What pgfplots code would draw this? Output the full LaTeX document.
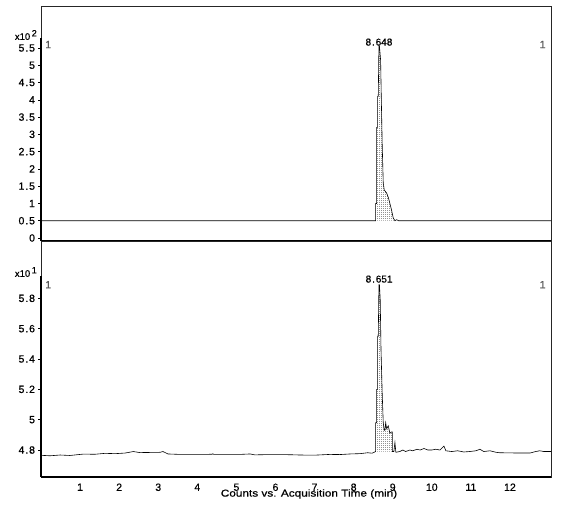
\documentclass[border=0pt]{standalone}
\usepackage{fontspec}
\setmainfont[FakeBold=0.7]{Liberation Sans}
\usepackage{pgfplots}
\pgfplotsset{compat=1.18}
\usetikzlibrary{patterns.meta}
\tikzdeclarepattern{
  name=fdots,
  type=uncolored,
  bottom left={(0pt,0pt)},
  top right={(1.5pt,1.5pt)},
  tile size={(1.5pt,1.5pt)},
  code={\fill (0pt,0pt) rectangle (0.9pt,0.9pt);}
}
\definecolor{lbl}{HTML}{5A5A5A}
\newcommand\dt{\kern0.9pt.\kern0.9pt}
\pgfplotsset{
  common/.style={
    scale only axis, width=510pt, xmin=0, xmax=13.05,
    axis line style={line width=0.7pt, black!85},
    tick style={black, line width=0.6pt},
    major tick length=3pt, tick align=outside,
    ytick pos=left, xtick pos=bottom,
    scaled ticks=false, clip mode=individual,
    tick label style={font=\fontsize{10.5}{11}\selectfont},
    /pgf/number format/assume math mode=true,
    yticklabel style={xshift=0.5pt},
  }
}
\begin{document}
\begin{tikzpicture}
\path[use as bounding box] (0pt,0pt) rectangle (569pt,-507pt);
% ---------- top panel ----------
\begin{axis}[common, at={(41pt,-6pt)}, anchor=north west, height=235pt,
  ymin=-0.087, ymax=6.715, xtick=\empty,
  ytick={0,0.5,1,1.5,2,2.5,3,3.5,4,4.5,5,5.5},
  yticklabels={0,0\dt5,1,1\dt5,2,2\dt5,3,3\dt5,4,4\dt5,5,5\dt5}]
\addplot[draw=none, pattern=fdots, pattern color=black] coordinates {
(8.563,0.5)(8.563,1.0)(8.588,1.0)(8.588,3.2)(8.614,3.2)(8.614,4.1)(8.63,4.1)
(8.647,5.58)(8.66,5.55)(8.69,5.15)(8.706,4.13)(8.731,2.69)(8.757,1.59)
(8.783,1.39)(8.844,1.3)(8.885,1.18)(8.928,1.0)(8.972,0.8)(9.013,0.58)(9.056,0.5)};
\addplot[black, line width=0.6pt] coordinates {
(0,0.5)(8.563,0.5)(8.563,1.0)(8.588,1.0)(8.588,3.2)(8.614,3.2)(8.614,4.1)(8.63,4.1)
(8.647,5.58)(8.66,5.55)(8.69,5.15)(8.706,4.13)(8.731,2.69)(8.757,1.59)
(8.783,1.39)(8.844,1.3)(8.885,1.18)(8.928,1.0)(8.972,0.8)(9.013,0.58)(9.056,0.5)
(9.10,0.53)(9.15,0.5)(13.05,0.5)};
\draw[line width=2.4pt] (axis cs:0,-0.087) -- (axis cs:0,5.8);
\draw[line width=2pt] (rel axis cs:0,0) -- (rel axis cs:1,0);
\node[font=\fontsize{10}{11}\selectfont] at (axis cs:8.648,5.67) {8\dt648};
\node[font=\fontsize{10.5}{11}\selectfont, text=lbl, anchor=west] at (axis cs:0.02,5.6) {1};
\node[font=\fontsize{10.5}{11}\selectfont, text=lbl, anchor=east] at (axis cs:13.0,5.6) {1};
\end{axis}
% ---------- bottom panel ----------
\begin{axis}[common, at={(41pt,-241pt)}, anchor=north west, height=236pt,
  ymin=4.622, ymax=6.178,
  xtick={1,2,3,4,5,6,7,8,9,10,11,12},
  xtick style={draw=none},
  ytick={4.8,5,5.2,5.4,5.6,5.8},
  yticklabels={4\dt8,5,5\dt2,5\dt4,5\dt6,5\dt8}]
\addplot[draw=none, pattern=fdots, pattern color=black] coordinates {
(8.563,4.79)(8.563,4.98)(8.588,4.98)(8.588,5.20)(8.614,5.20)(8.614,5.55)(8.63,5.55)
(8.647,5.89)(8.66,5.89)(8.68,5.79)(8.70,5.46)(8.731,5.17)(8.757,4.98)(8.783,4.93)
(8.80,4.93)(8.82,4.98)(8.844,4.94)(8.885,4.96)(8.928,4.91)(8.972,4.92)(8.99,4.92)(8.99,4.79)};
\addplot[black, line width=0.6pt] coordinates {
(0,4.765)(0.23,4.762)(0.49,4.767)(0.74,4.764)(1.08,4.773)(1.38,4.772)(1.64,4.778)
(1.90,4.776)(2.15,4.780)(2.28,4.786)(2.36,4.79)(2.53,4.783)(2.79,4.784)(3.05,4.785)
(3.12,4.79)(3.25,4.774)(3.56,4.771)(4.07,4.771)(4.38,4.772)(4.40,4.776)(4.42,4.771)
(5.09,4.771)(5.35,4.774)(5.47,4.768)(5.86,4.770)(6.37,4.769)(6.63,4.767)(7.0,4.766)
(7.39,4.771)(7.65,4.770)(7.91,4.774)(8.16,4.776)(8.36,4.782)(8.47,4.779)(8.563,4.79)
(8.563,4.98)(8.588,4.98)(8.588,5.20)(8.614,5.20)(8.614,5.55)(8.63,5.55)
(8.647,5.89)(8.66,5.89)(8.68,5.79)(8.70,5.46)(8.731,5.17)(8.757,4.98)(8.783,4.93)
(8.80,4.93)(8.82,4.98)(8.844,4.94)(8.885,4.96)(8.928,4.91)(8.972,4.92)(8.99,4.92)(8.99,4.79)
(9.03,4.79)(9.056,4.85)(9.08,4.785)(9.18,4.79)(9.26,4.80)(9.33,4.79)(9.44,4.80)
(9.51,4.795)(9.62,4.805)(9.70,4.80)(9.80,4.81)(9.90,4.80)(10.0,4.80)(10.10,4.805)
(10.21,4.80)(10.31,4.826)(10.36,4.795)(10.51,4.79)(10.66,4.795)(10.82,4.787)
(10.97,4.79)(11.13,4.795)(11.23,4.805)(11.33,4.79)(11.49,4.795)(11.64,4.785)
(11.74,4.782)(12.0,4.781)(12.25,4.78)(12.51,4.78)(12.66,4.79)(12.76,4.795)
(12.87,4.79)(13.05,4.79)};
\draw[line width=2.4pt] (axis cs:0,4.622) -- (axis cs:0,5.95);
\draw[line width=2pt] (rel axis cs:0,0) -- (rel axis cs:1,0);
\node[font=\fontsize{10}{11}\selectfont] at (axis cs:8.651,5.927) {8\dt651};
\node[font=\fontsize{10.5}{11}\selectfont, text=lbl, anchor=west] at (axis cs:0.02,5.89) {1};
\node[font=\fontsize{10.5}{11}\selectfont, text=lbl, anchor=east] at (axis cs:13.0,5.89) {1};
\end{axis}
% ---------- texts outside ----------
\node[anchor=east, inner sep=0pt, font=\fontsize{9.5}{10}\selectfont] at (37pt,-35pt) {x10\,\raisebox{3.5pt}{\fontsize{9}{10}\selectfont 2}};
\node[anchor=east, inner sep=0pt, font=\fontsize{9.5}{10}\selectfont] at (37pt,-272pt) {x10\,\raisebox{3.5pt}{\fontsize{9}{10}\selectfont 1}};
\node[inner sep=0pt, font=\fontsize{10}{11}\selectfont] at (309pt,-494pt) {\scalebox{1.18}[1]{Counts vs. Acquisition Time (min)}};
\end{tikzpicture}
\end{document}
